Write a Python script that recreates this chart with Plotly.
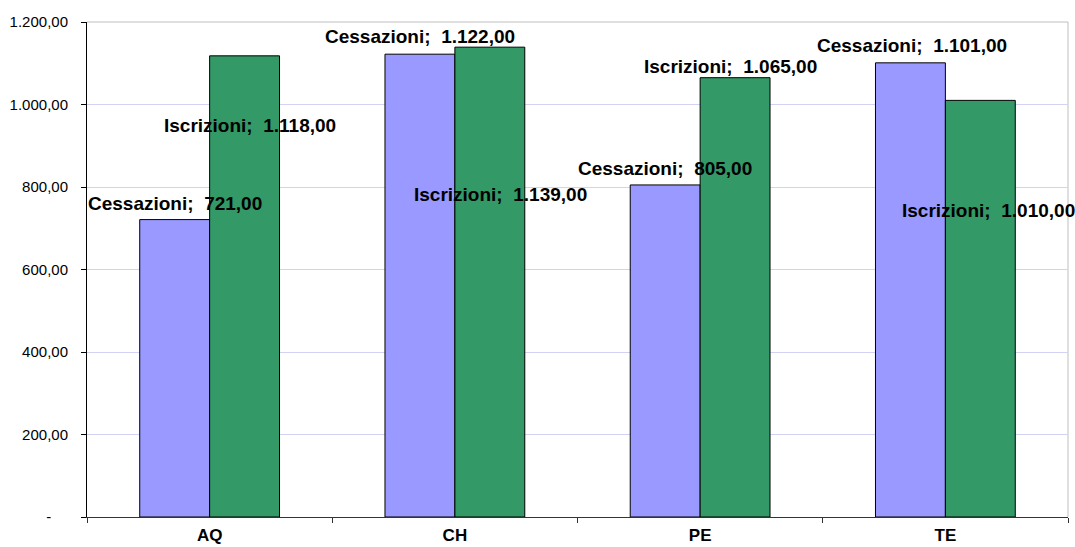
import plotly.graph_objects as go

# Province categories and the two series
province = ["AQ", "CH", "PE", "TE"]
cessazioni = [721, 1122, 805, 1101]
iscrizioni = [1118, 1139, 1065, 1010]

# Y axis ticks (Italian accounting-style formatting)
y_tickvals = [0, 200, 400, 600, 800, 1000, 1200]
y_ticktext = ["-\u00a0\u00a0\u00a0\u00a0", "200,00", "400,00", "600,00", "800,00", "1.000,00", "1.200,00"]


def fmt_it(v):
    s = f"{v:,.2f}"
    return s.replace(",", "X").replace(".", ",").replace("X", ".")


fig = go.Figure()
fig.add_bar(x=province, y=cessazioni, name="Cessazioni",
            marker=dict(color="#9999FF", line=dict(color="#000000", width=1)))
fig.add_bar(x=province, y=iscrizioni, name="Iscrizioni",
            marker=dict(color="#339966", line=dict(color="#000000", width=1)))

# Manually placed data labels: (x offset from category centre, y position)
cess_label_pos = [(-0.143, 761), (-0.143, 1164), (-0.143, 846), (-0.135, 1142)]
iscr_label_pos = [(0.163, 950), (0.184, 783), (0.122, 1091), (0.176, 742)]

label_font = dict(family="Liberation Sans, Arial, sans-serif", size=19, color="#000000")
annotations = []
for i, v in enumerate(cessazioni):
    dx, y = cess_label_pos[i]
    annotations.append(dict(x=i + dx, y=y, xref="x", yref="y", showarrow=False,
                            text=f"<b>Cessazioni;  {fmt_it(v)}</b>", font=label_font))
for i, v in enumerate(iscrizioni):
    dx, y = iscr_label_pos[i]
    annotations.append(dict(x=i + dx, y=y, xref="x", yref="y", showarrow=False,
                            text=f"<b>Iscrizioni;  {fmt_it(v)}</b>", font=label_font))

fig.update_layout(
    width=1075, height=547,
    margin=dict(l=87, r=7, t=22, b=30),
    paper_bgcolor="#FFFFFF", plot_bgcolor="#FFFFFF",
    barmode="group", bargap=0.43, bargroupgap=0,
    showlegend=False,
    annotations=annotations,
    font=dict(family="Liberation Sans, Arial, sans-serif", color="#000000"),
)

fig.update_xaxes(
    type="category", range=[-0.5, 3.5], automargin=False,
    showgrid=False, showline=True, linecolor="#333333", linewidth=1,
    ticks="outside", tickson="boundaries", ticklen=5, tickcolor="#333333",
    tickfont=dict(size=17, family="Liberation Sans, Arial, sans-serif", color="#000000", weight="bold"),
    ticklabelstandoff=3,
)
fig.update_yaxes(
    range=[0, 1200], tickvals=y_tickvals, ticktext=y_ticktext, automargin=False,
    showgrid=True, gridcolor="#D2D2F5", gridwidth=1,
    showline=True, linecolor="#000000", linewidth=1,
    ticks="outside", ticklen=5, tickcolor="#000000",
    tickfont=dict(size=15, family="Liberation Sans, Arial, sans-serif", color="#000000"),
    ticklabelstandoff=10, zeroline=False,
)

# Light grey plot-area border on the top and right
fig.add_shape(type="line", xref="paper", yref="paper", x0=0, x1=1, y0=1, y1=1,
              line=dict(color="#BFBFBF", width=1), layer="below")
fig.add_shape(type="line", xref="paper", yref="paper", x0=1, x1=1, y0=0, y1=1,
              line=dict(color="#BFBFBF", width=1), layer="below")

fig.write_html("out.html")
